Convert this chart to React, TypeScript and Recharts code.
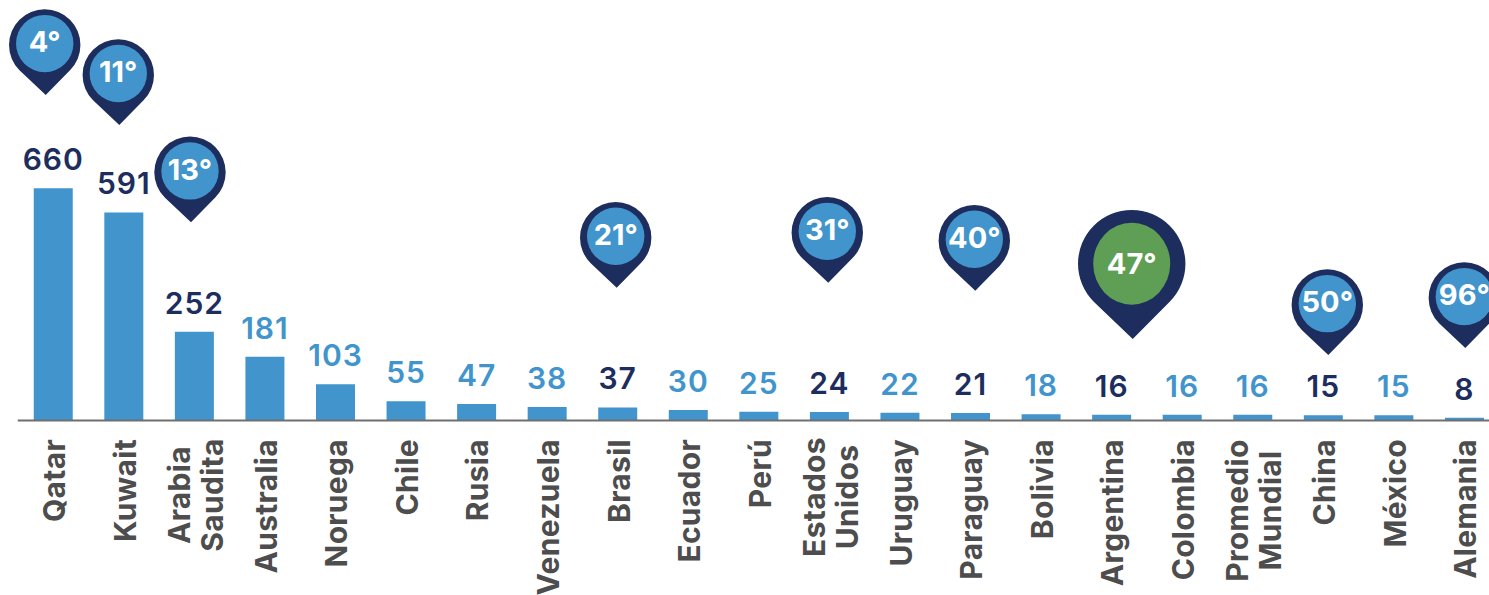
import React from 'react';
import { BarChart, Bar, XAxis, YAxis, LabelList, ReferenceDot } from 'recharts';

const countries = [
  'Qatar', 'Kuwait', 'Arabia Saudita', 'Australia', 'Noruega', 'Chile', 'Rusia',
  'Venezuela', 'Brasil', 'Ecuador', 'Perú', 'Estados Unidos', 'Uruguay', 'Paraguay',
  'Bolivia', 'Argentina', 'Colombia', 'Promedio Mundial', 'China', 'México', 'Alemania',
];
const values = [660, 591, 252, 181, 103, 55, 47, 38, 37, 30, 25, 24, 22, 21, 18, 16, 16, 16, 15, 15, 8];

const pinCountries = ['Qatar', 'Kuwait', 'Arabia Saudita', 'Brasil', 'Estados Unidos', 'Paraguay', 'Argentina', 'China', 'Alemania'];
const pinLabels = ['4°', '11°', '13°', '21°', '31°', '40°', '47°', '50°', '96°'];

// pin tip relative to the top of its bar, in px
const pinDx = [-7.3, -4.3, -3.15, -0.8, -0.9, 5, 21.3, 5.2, 1.1];
const pinRise = [93.2, 87.5, 109.5, 119.8, 129.3, 122.4, 75.9, 60.2, 69.7];

// middle of the two-line labels, measured down from the top of the label block
const twoLineMiddle: Record<string, number> = { 'Arabia Saudita': 56, 'Estados Unidos': 58, 'Promedio Mundial': 71.5 };

const BLUE = '#4195cc';
const NAVY = '#1c2d5e';
const GREEN = '#5f9f55';
const GREY = '#4d4d4d';
const FONT = 'Inter, sans-serif';

const data = countries.map((name, i) => ({ name, value: values[i] }));

const Pin = ({ cx, cy, index }: any) => {
  const tipX = cx + pinDx[index];
  const tipY = cy - pinRise[index];
  const big = pinLabels[index] === '47°';
  const r = big ? 53.7 : 35.7;
  const drop = big ? 75.3 : 50; // circle centre above the tip
  const half = r * Math.SQRT1_2;
  const c = tipY - drop;
  const mid = tipX - 1;
  return (
    <g>
      <path
        d={`M${mid - half} ${c + half} A${r} ${r} 0 1 1 ${mid + half} ${c + half} L${tipX} ${tipY} Z`}
        fill={NAVY}
      />
      <ellipse
        cx={mid}
        cy={big ? c : c - 1.4}
        rx={big ? 38.5 : 28.7}
        ry={big ? 41 : 28.7}
        fill={big ? GREEN : BLUE}
      />
      <text
        x={mid}
        y={big ? tipY - 65 : tipY - 42.7}
        textAnchor="middle"
        fontFamily={FONT}
        fontSize={29}
        fontWeight={700}
        fill="#fff"
      >
        {pinLabels[index]}
      </text>
    </g>
  );
};

const ValueLabel = ({ x, y, width, value, index }: any) => (
  <text
    x={x + width / 2}
    y={y - 18}
    textAnchor="middle"
    fontFamily={FONT}
    fontSize={30}
    fontWeight={600}
    letterSpacing={1}
    fill={pinCountries.includes(countries[index]) ? NAVY : BLUE}
  >
    {value}
  </text>
);

const CountryTick = ({ x, payload }: any) => {
  const words = payload.value.split(' ');
  const textProps = { fontFamily: FONT, fontSize: 30, fontWeight: 700, letterSpacing: 0.3, fill: GREY };
  return (
    <g transform={`translate(${x}, 439) rotate(-90)`}>
      {words.length > 1 ? (
        <>
          <text x={-twoLineMiddle[payload.value]} y={-4.5} textAnchor="middle" {...textProps}>{words[0]}</text>
          <text x={-twoLineMiddle[payload.value]} y={28.5} textAnchor="middle" {...textProps}>{words[1]}</text>
        </>
      ) : (
        <text x={0} y={12} textAnchor="end" {...textProps}>{payload.value}</text>
      )}
    </g>
  );
};

const App = () => {
  return (
    <div style={{ position: 'absolute', left: 0, top: 0, width: 1489, height: 595, overflow: 'hidden', background: '#fff' }}>
      <BarChart width={1499.5} height={595} data={data} margin={{ top: 68.5, right: 0, bottom: 0, left: 17.75 }}>
        <XAxis
          dataKey="name"
          height={174.5}
          interval={0}
          tickLine={false}
          axisLine={{ stroke: '#6f6f6f', strokeWidth: 2 }}
          tick={<CountryTick />}
        />
        <YAxis hide domain={[0, 1000]} />
        <Bar dataKey="value" fill={BLUE} barSize={39} isAnimationActive={false}>
          <LabelList dataKey="value" content={<ValueLabel />} />
        </Bar>
        {pinCountries.map((name, i) => (
          <ReferenceDot
            key={name}
            x={name}
            y={values[countries.indexOf(name)]}
            ifOverflow="visible"
            shape={(props: any) => <Pin {...props} index={i} />}
          />
        ))}
      </BarChart>
    </div>
  );
};

export default App;
